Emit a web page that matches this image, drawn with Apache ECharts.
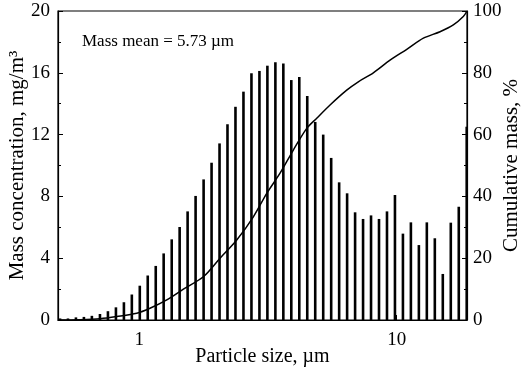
<!DOCTYPE html>
<html>
<head>
<meta charset="utf-8">
<script src="https://cdn.jsdelivr.net/npm/echarts@6/dist/echarts.min.js"></script>
<style>html,body{margin:0;padding:0;background:#fff}#c{width:525px;height:374px}</style>
</head>
<body>
<div id="c"></div>
<script>
// Particle size channels (µm)
var sizes = [0.492, 0.528, 0.567, 0.609, 0.654, 0.703, 0.755, 0.811, 0.871, 0.935,
  1.004, 1.078, 1.158, 1.243, 1.336, 1.434, 1.540, 1.654, 1.777, 1.908,
  2.049, 2.200, 2.363, 2.538, 2.726, 2.928, 3.144, 3.377, 3.626, 3.894,
  4.182, 4.491, 4.823, 5.180, 5.563, 5.974, 6.415, 6.890, 7.399, 7.946,
  8.533, 9.165, 9.842, 10.57, 11.35, 12.19, 13.09, 14.06, 15.10, 16.22,
  17.42, 18.70];
// Mass concentration (mg/m3)
var massConc = [0.1, 0.1, 0.17, 0.2, 0.27, 0.39, 0.57, 0.82, 1.15, 1.65,
  2.22, 2.88, 3.5, 4.31, 5.22, 6.02, 7.03, 8.03, 9.1, 10.18,
  11.43, 12.67, 13.8, 14.78, 15.97, 16.12, 16.46, 16.68, 16.61, 15.53,
  15.73, 14.5, 12.82, 12.0, 10.49, 8.91, 8.2, 6.97, 6.54, 6.77,
  6.54, 7.03, 8.09, 5.59, 6.32, 4.85, 6.32, 5.29, 2.98, 6.3,
  7.33, 12.51];
// Cumulative mass curve (%)
var cumSizes = [0.483, 0.588, 0.704, 0.817, 0.977, 1.100, 1.278, 1.483, 1.773, 2.058,
  2.390, 2.773, 3.126, 3.521, 3.965, 4.471, 4.889, 5.507, 6.393, 7.092,
  8.111, 9.419, 10.94, 12.69, 14.73, 16.59, 18.14, 18.75];
var cumMass = [0, 0.1, 0.4, 1.1, 2.2, 3.8, 6.5, 10, 14, 20,
  25.9, 33.4, 41, 47.5, 55, 62, 65.3, 69.6, 74.4, 77.1,
  80, 84.1, 87.6, 91.2, 93.3, 95.5, 98.2, 100];
var xTickLabels = ['1', '10'];

var font = 'Liberation Serif';
var chart = echarts.init(document.getElementById('c'));
chart.setOption({
  animation: false,
  grid: {left: 58, right: 58, top: 11, bottom: 54, outerBoundsMode: 'none', containLabel: false,
    show: true, borderColor: '#000', borderWidth: 1.2},
  xAxis: {
    type: 'log', logBase: 10, min: 0.483, max: 18.75,
    name: 'Particle size, µm', nameLocation: 'middle', nameGap: 27, nameMoveOverlap: false,
    nameTextStyle: {fontFamily: font, fontSize: 20, color: '#000'},
    axisLine: {show: true, lineStyle: {color: '#000', width: 1.2}},
    axisTick: {show: true, inside: true, length: 5, lineStyle: {color: '#000'}},
    splitLine: {show: false},
    axisLabel: {
      showMinLabel: false, showMaxLabel: false, margin: 11,
      fontFamily: font, fontSize: 19, color: '#000',
      formatter: function (v) {
        var s = String(Math.round(v * 1000) / 1000);
        return xTickLabels.indexOf(s) >= 0 ? s : '';
      }
    }
  },
  yAxis: [{
    type: 'value', min: 0, max: 20, interval: 4, position: 'left',
    name: 'Mass concentration, mg/m³', nameLocation: 'middle', nameGap: 30, nameRotate: 90,
    nameMoveOverlap: false,
    nameTextStyle: {fontFamily: font, fontSize: 21, color: '#000'},
    axisLine: {show: true, lineStyle: {color: '#000', width: 1.2}},
    axisTick: {show: true, inside: true, length: 5, lineStyle: {color: '#000'}},
    minorTick: {show: true, splitNumber: 2, length: 3, lineStyle: {color: '#000'}},
    splitLine: {show: false},
    axisLabel: {fontFamily: font, fontSize: 19, color: '#000', margin: 8}
  }, {
    type: 'value', min: 0, max: 100, interval: 20, position: 'right',
    name: 'Cumulative mass, %', nameLocation: 'middle', nameGap: 34, nameRotate: 90,
    nameMoveOverlap: false,
    nameTextStyle: {fontFamily: font, fontSize: 21, color: '#000'},
    axisLine: {show: true, lineStyle: {color: '#000', width: 1.2}},
    axisTick: {show: true, inside: true, length: 5, lineStyle: {color: '#000'}},
    minorTick: {show: true, splitNumber: 2, length: 3, lineStyle: {color: '#000'}},
    splitLine: {show: false},
    axisLabel: {fontFamily: font, fontSize: 19, color: '#000', margin: 6}
  }],
  graphic: [{
    type: 'text', left: 82, top: 33,
    style: {text: 'Mass mean = 5.73 µm', fontFamily: font, fontSize: 17, fill: '#000'}
  }],
  series: [{
    type: 'bar', yAxisIndex: 0, barWidth: 2.6,
    itemStyle: {color: '#000'},
    data: sizes.map(function (s, i) { return [s, massConc[i]]; })
  }, {
    type: 'line', yAxisIndex: 1, smooth: 0.3, showSymbol: false,
    lineStyle: {color: '#000', width: 1.5},
    data: cumSizes.map(function (s, i) { return [s, cumMass[i]]; })
  }]
});
</script>
</body>
</html>
